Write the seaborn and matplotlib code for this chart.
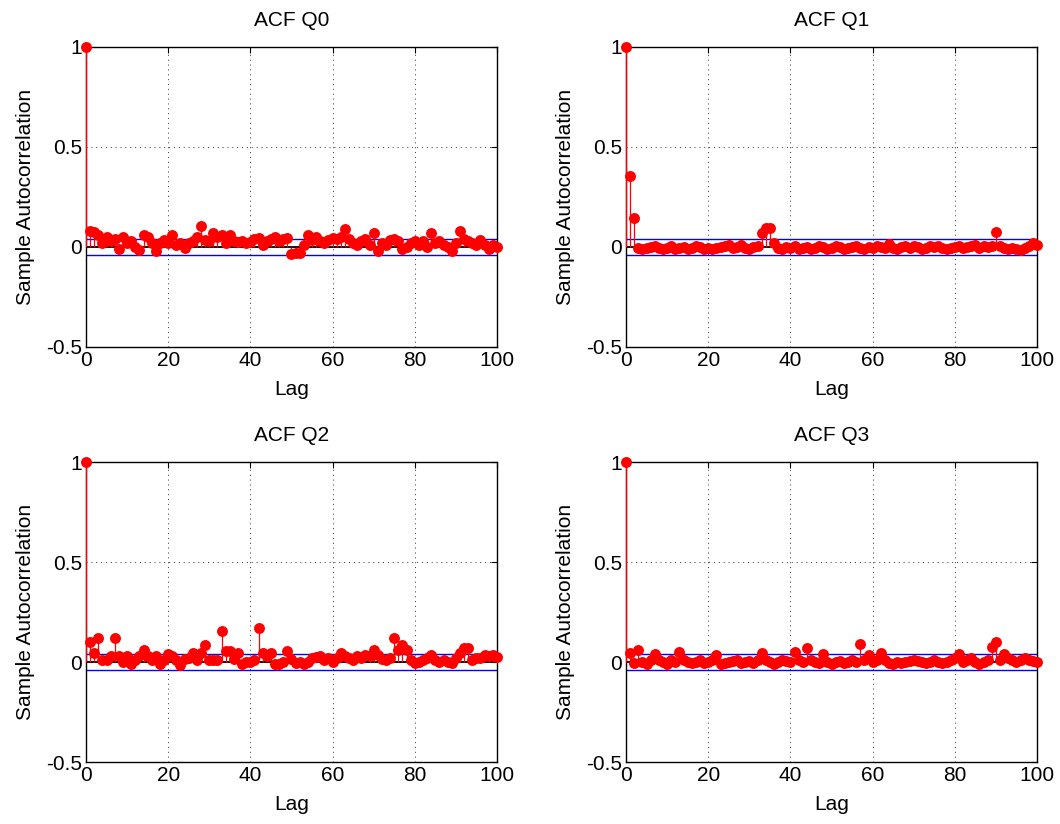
import numpy as np
import pandas as pd
import matplotlib
matplotlib.use("Agg")
import matplotlib.pyplot as plt
import seaborn as sns

# --- DATA ---
lags = list(range(0, 101))

acf_q0 = [1.0, 0.08, 0.074, 0.06, 0.02, 0.05, 0.03, 0.04, -0.01, 0.05,
          0.02, 0.03, 0.0, -0.015, 0.06, 0.05, 0.02, -0.02, 0.02, 0.035,
          0.02, 0.06, 0.01, 0.02, -0.005, 0.02, 0.03, 0.05, 0.107, 0.035,
          0.03, 0.068, 0.05, 0.06, 0.02, 0.06, 0.03, 0.025, 0.03, 0.02,
          0.025, 0.04, 0.045, 0.01, 0.03, 0.04, 0.05, 0.03, 0.04, 0.045,
          -0.035, -0.03, -0.03, 0.01, 0.06, 0.035, 0.05, 0.03, 0.02, 0.035,
          0.045, 0.04, 0.05, 0.09, 0.04, 0.02, 0.01, 0.03, 0.04, 0.01,
          0.07, -0.02, 0.02, 0.01, 0.035, 0.04, 0.03, -0.01, 0.0, 0.02,
          0.03, 0.01, 0.03, 0.0, 0.07, 0.02, 0.03, 0.01, 0.0, -0.02,
          0.02, 0.08, 0.04, 0.03, 0.02, 0.01, 0.035, 0.01, -0.01, 0.01,
          0.0]

acf_q1 = [1.0, 0.357, 0.145, -0.005, -0.01, -0.005, 0.0, 0.005, -0.005, -0.01,
          -0.005, 0.005, -0.01, -0.005, 0.0, -0.01, -0.005, 0.005, 0.0, -0.01,
          -0.005, -0.01, -0.005, 0.0, 0.005, 0.01, -0.005, 0.0, 0.01, -0.005,
          -0.01, 0.0, 0.005, 0.068, 0.097, 0.097, 0.02, -0.005, -0.01, 0.0,
          -0.005, 0.005, -0.01, -0.005, 0.0, -0.01, -0.005, 0.005, 0.0, -0.01,
          -0.005, 0.005, 0.0, -0.01, -0.005, 0.0, 0.005, -0.005, -0.01, 0.0,
          -0.005, 0.005, 0.0, -0.005, 0.015, -0.005, -0.01, 0.0, 0.005, -0.005,
          0.005, 0.0, -0.01, -0.005, 0.005, 0.0, 0.005, -0.005, -0.01, -0.005,
          0.0, 0.005, -0.005, 0.0, 0.005, 0.01, -0.005, 0.005, 0.0, 0.005,
          0.073, 0.005, -0.005, -0.01, -0.005, -0.01, -0.015, -0.005, 0.005, 0.02,
          0.01]

acf_q2 = [1.0, 0.10, 0.043, 0.118, 0.01, 0.01, 0.03, 0.122, 0.03, 0.0,
          0.03, -0.01, 0.01, 0.03, 0.06, 0.03, 0.01, 0.03, -0.012, 0.01,
          0.04, 0.03, 0.01, -0.015, 0.013, 0.02, 0.043, 0.01, 0.043, 0.085,
          0.01, 0.01, 0.01, 0.155, 0.057, 0.057, 0.013, 0.043, -0.01, 0.0,
          0.0, 0.01, 0.168, 0.043, 0.03, 0.043, -0.01, -0.01, 0.0, 0.055,
          0.013, -0.005, 0.0, -0.01, 0.0, 0.02, 0.025, 0.03, 0.01, 0.02,
          0.0, 0.02, 0.047, 0.03, 0.02, 0.01, 0.03, 0.02, 0.035, 0.03,
          0.06, 0.035, 0.015, 0.01, 0.02, 0.118, 0.06, 0.085, 0.06, 0.01,
          -0.005, 0.0, 0.01, 0.02, 0.035, 0.01, 0.0, 0.01, 0.0, -0.007,
          0.02, 0.043, 0.068, 0.068, 0.01, 0.02, 0.02, 0.035, 0.03, 0.035,
          0.025]

acf_q3 = [1.0, 0.043, -0.007, 0.06, 0.0, -0.01, 0.01, 0.038, 0.01, 0.0,
          -0.01, 0.01, 0.0, 0.05, 0.01, 0.0, -0.005, 0.0, 0.01, -0.005,
          0.0, 0.01, 0.035, -0.01, -0.005, 0.0, 0.005, 0.01, -0.005, 0.0,
          0.005, -0.005, 0.01, 0.043, 0.01, 0.0, -0.01, 0.0, 0.01, 0.005,
          0.0, 0.048, 0.01, 0.0, 0.068, 0.01, 0.0, -0.005, 0.04, 0.0,
          -0.01, 0.0, 0.005, -0.005, 0.0, 0.01, 0.0, 0.09, 0.01, 0.035,
          0.0, 0.01, 0.043, 0.01, -0.005, -0.01, 0.0, -0.005, 0.0, 0.005,
          0.01, 0.005, 0.0, -0.005, 0.0, 0.01, 0.0, -0.005, 0.0, 0.01,
          0.02, 0.038, 0.0, 0.01, 0.02, 0.0, -0.01, 0.0, 0.01, 0.077,
          0.098, 0.01, 0.038, 0.02, 0.01, 0.0, 0.01, 0.02, 0.01, 0.005,
          0.002]

series = {"Q0": acf_q0, "Q1": acf_q1, "Q2": acf_q2, "Q3": acf_q3}
conf_bound = 0.04

# --- STYLE ---
sns.set_style("white")
plt.rcParams["font.family"] = ["Liberation Sans", "DejaVu Sans"]
plt.rcParams["text.color"] = "black"
plt.rcParams["axes.labelcolor"] = "black"
plt.rcParams["xtick.color"] = "black"
plt.rcParams["ytick.color"] = "black"

fig = plt.figure(figsize=(10.6, 8.24), dpi=100)
positions = {
    "Q0": [0.0811, 0.5789, 0.3877, 0.3641],
    "Q1": [0.5906, 0.5789, 0.3877, 0.3641],
    "Q2": [0.0811, 0.0752, 0.3877, 0.3641],
    "Q3": [0.5906, 0.0752, 0.3877, 0.3641],
}

for name, vals in series.items():
    ax = fig.add_axes(positions[name])
    df = pd.DataFrame({"Lag": lags, "ACF": vals})

    # baseline and confidence bounds
    bounds = pd.DataFrame({"Lag": [0, 100], "up": [conf_bound] * 2,
                           "lo": [-conf_bound] * 2, "zero": [0, 0]})
    sns.lineplot(data=bounds, x="Lag", y="up", color="blue", linewidth=1.0, ax=ax, zorder=1)
    sns.lineplot(data=bounds, x="Lag", y="lo", color="blue", linewidth=1.0, ax=ax, zorder=1)
    sns.lineplot(data=bounds, x="Lag", y="zero", color="black", linewidth=1.3, ax=ax, zorder=3)
    # stems
    ax.vlines(df["Lag"], 0, df["ACF"], color="red", linewidth=0.9, zorder=4, clip_on=False)
    # markers
    sns.scatterplot(data=df, x="Lag", y="ACF", color="red", s=62, edgecolor="red",
                    linewidth=0, ax=ax, zorder=5, clip_on=False)

    ax.set_xlim(0, 100)
    ax.set_ylim(-0.5, 1)
    ax.set_xticks([0, 20, 40, 60, 80, 100])
    ax.set_yticks([-0.5, 0, 0.5, 1])
    ax.set_yticklabels(["-0.5", "0", "0.5", "1"])
    ax.grid(True, linestyle=(0, (1, 4)), color="black", linewidth=0.7, alpha=0.8)
    ax.tick_params(direction="in", length=4, top=True, right=True,
                   labelsize=15, width=0.8, pad=3)
    for sp in ax.spines.values():
        sp.set_visible(True)
        sp.set_color("black")
        sp.set_linewidth(1.0)
    ax.set_title(f"ACF {name}", fontsize=15, pad=15)
    ax.set_xlabel("Lag", fontsize=15, labelpad=7)
    ax.set_ylabel("Sample Autocorrelation", fontsize=15, labelpad=8)

fig.savefig("out.png", dpi=100)
